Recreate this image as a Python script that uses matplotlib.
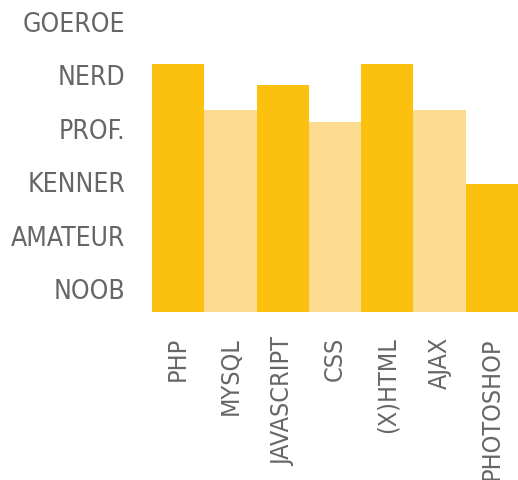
import matplotlib
matplotlib.use("Agg")
import matplotlib.pyplot as plt
from matplotlib import font_manager

# skill levels (y axis) and per-skill scores on that scale
levels = ["NOOB", "AMATEUR", "KENNER", "PROF.", "NERD", "GOEROE"]
skills = ["PHP", "MYSQL", "JAVASCRIPT", "CSS", "(X)HTML", "AJAX", "PHOTOSHOP"]
scores = [5.21, 4.35, 4.82, 4.13, 5.21, 4.35, 2.97]

dark = "#FCC10F"
light = "#FDDC91"
text_color = "#666666"

# pick a condensed face if one is installed
names = {(f.name, f.stretch) for f in font_manager.fontManager.ttflist}
if any(n == "Liberation Sans Narrow" for n, _ in names):
    family, stretch, size = "Liberation Sans Narrow", "normal", 20
elif ("DejaVu Sans", "condensed") in names or ("DejaVu Sans", 600) in names:
    family, stretch, size = "DejaVu Sans", "condensed", 19
else:
    family, stretch, size = "DejaVu Sans", "normal", 17

plt.rcParams["font.family"] = [family, "DejaVu Sans"]
plt.rcParams["font.stretch"] = stretch

fig = plt.figure(figsize=(5.18, 4.8), dpi=100)
ax = fig.add_axes([152 / 518, 0.35, 1 - 152 / 518, 0.65])

colors = [dark if i % 2 == 0 else light for i in range(len(skills))]
ax.bar(range(len(skills)), scores, width=1.0, color=colors, linewidth=0)

ax.set_xlim(-0.5, len(skills) - 0.5)
ax.set_ylim(0.57, 6.41)
ax.set_yticks(range(1, len(levels) + 1))
ax.set_yticklabels(levels)
ax.set_xticks(range(len(skills)))
ax.set_xticklabels(skills, rotation=90, va="top")

ax.tick_params(axis="y", length=0, pad=19, labelsize=size, labelcolor=text_color)
ax.tick_params(axis="x", length=0, pad=18, labelsize=size - 1, labelcolor=text_color)
for s in ax.spines.values():
    s.set_visible(False)

fig.savefig("out.png", dpi=100)
